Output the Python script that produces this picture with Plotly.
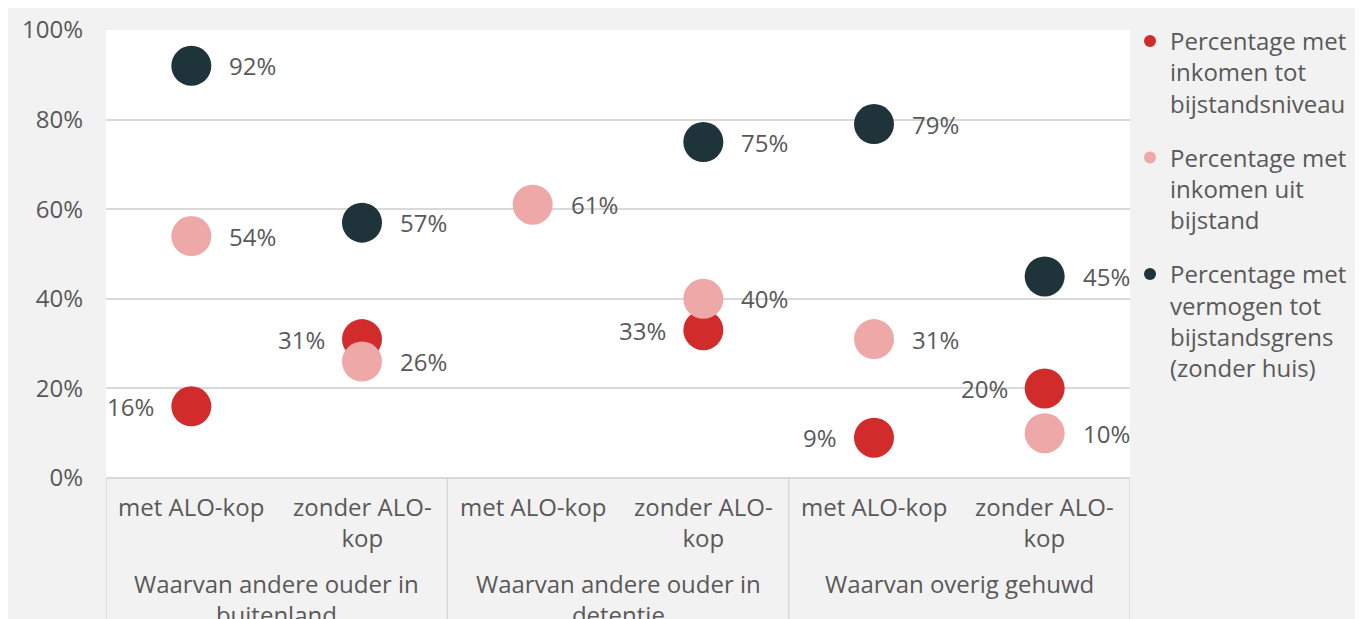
import plotly.graph_objects as go

groups = ["Waarvan andere ouder in<br>buitenland", "Waarvan andere ouder in<br>detentie", "Waarvan overig gehuwd"]
subcats = ["met ALO-kop", "zonder ALO-<br>kop", "met ALO-kop", "zonder ALO-<br>kop", "met ALO-kop", "zonder ALO-<br>kop"]

series_names = [
    "Percentage met<br>inkomen tot<br>bijstandsniveau",
    "Percentage met<br>inkomen uit<br>bijstand",
    "Percentage met<br>vermogen tot<br>bijstandsgrens<br>(zonder huis)",
]
inkomen_tot = [16, 31, None, 33, 9, 20]
inkomen_uit = [54, 26, 61, 40, 31, 10]
vermogen = [92, 57, None, 75, 79, 45]

colors = ["#d22b2b", "#eea8a8", "#1f333b"]
label_side = ["left", "right", "right"]

TXT = "#595959"
FONT = "Open Sans"
FS = 24

fig = go.Figure()
x_idx = list(range(len(subcats)))
all_series = [inkomen_tot, inkomen_uit, vermogen]
annotations = []
for name, vals, col, side in zip(series_names, all_series, colors, label_side):
    fig.add_trace(go.Scatter(
        x=x_idx, y=vals, mode="markers", name=name, legendgroup=name,
        marker=dict(size=40, color=col, line=dict(width=0)),
        hoverinfo="skip",
    ))
    for xi, v in zip(x_idx, vals):
        if v is None:
            continue
        annotations.append(dict(
            x=xi, y=v, xref="x", yref="y", text=f"{v}%", showarrow=False,
            xanchor="left" if side == "right" else "right",
            xshift=36 if side == "right" else -35,
            font=dict(family=FONT, size=FS, color=TXT),
        ))

# category labels
for i, s in enumerate(subcats):
    annotations.append(dict(
        x=i, y=-0.022, xref="x", yref="paper", text=s, showarrow=False,
        xanchor="center", yanchor="top", align="center",
        font=dict(family=FONT, size=FS, color=TXT),
    ))
for g, gname in enumerate(groups):
    annotations.append(dict(
        x=2 * g + 0.5, y=-0.194, xref="x", yref="paper", text=gname, showarrow=False,
        xanchor="center", yanchor="top", align="center",
        font=dict(family=FONT, size=FS, color=TXT),
    ))

shapes = []
# category separators
for b in [-0.5, 1.5, 3.5, 5.5]:
    shapes.append(dict(type="line", xref="x", yref="paper", x0=b, x1=b, y0=0, y1=-0.35,
                       line=dict(color="#d9d9d9", width=1.5)))

fig.update_layout(
    width=1363, height=619,
    margin=dict(l=98, r=241, t=22, b=149, pad=0, autoexpand=False),
    paper_bgcolor="#f2f2f2", plot_bgcolor="white",
    font=dict(family=FONT, size=FS, color=TXT),
    showlegend=True,
    legend=dict(x=1.0, y=1.025, xanchor="left", yanchor="top", valign="top",
                itemsizing="constant", tracegroupgap=20, bgcolor="rgba(0,0,0,0)",
                maxheight=600,
                font=dict(family=FONT, size=FS, color=TXT)),
    xaxis=dict(range=[-0.5, 5.5], showticklabels=False, showgrid=False, zeroline=False,
               showline=False, ticks=""),
    yaxis=dict(range=[0, 100], dtick=20, ticksuffix="%", showgrid=True, gridcolor="#d9d9d9",
               gridwidth=1.5, zeroline=True, zerolinecolor="#d9d9d9", zerolinewidth=1.5,
               showline=False, ticks="", ticklabelstandoff=22,
               tickfont=dict(family=FONT, size=FS, color=TXT)),
    annotations=annotations,
    shapes=shapes,
)
fig.write_html("out.html")
